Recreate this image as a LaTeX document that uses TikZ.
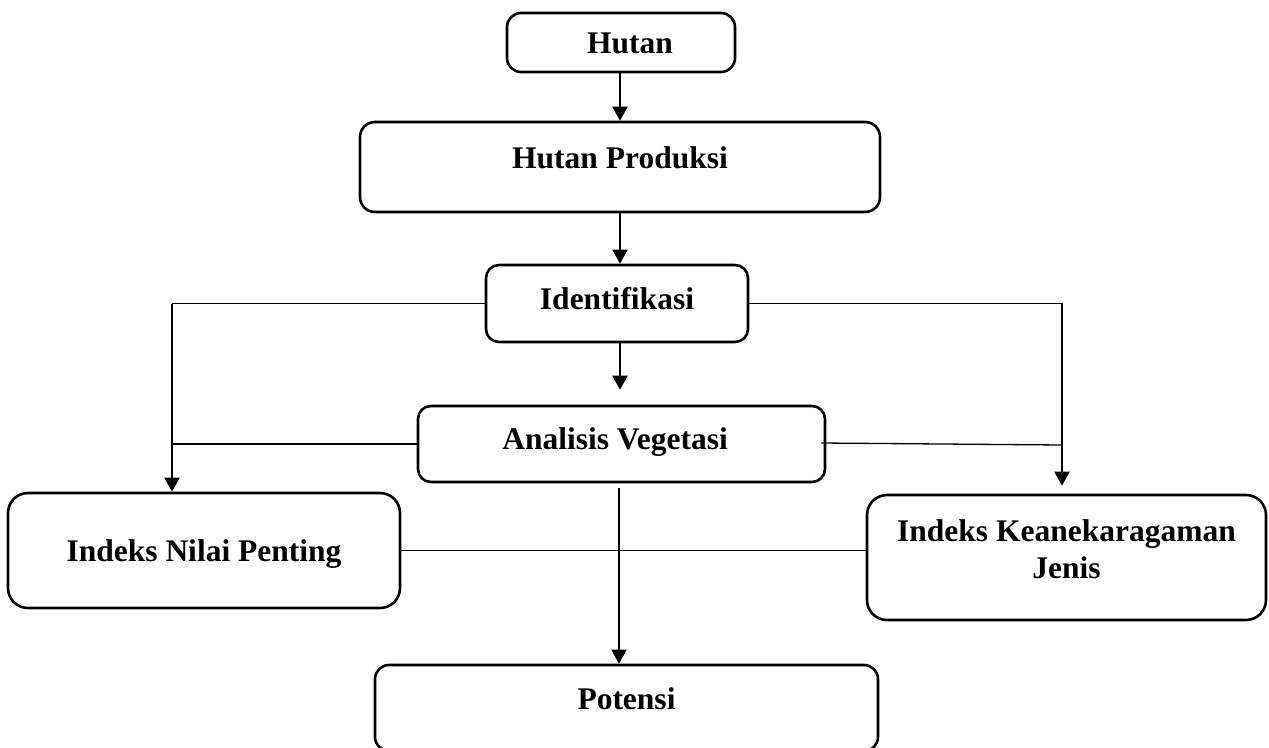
\documentclass[tikz,border=0pt]{standalone}
\usepackage{fontspec}
\setmainfont{Liberation Serif}
\usetikzlibrary{arrows.meta,calc}
\begin{document}
\begin{tikzpicture}[x=1pt,y=-1pt,
  box/.style={draw, line width=2.6pt, rounded corners=14pt, inner sep=0pt, align=center,
    font=\bfseries\fontsize{31.5}{37}\selectfont},
  arr/.style={line width=2pt, -{Triangle[length=14pt,width=15pt]}},
  thinline/.style={line width=1.3pt}]
\useasboundingbox (0,0) rectangle (1269,747);
\clip (0,0) rectangle (1269,747);
% boxes
\node[box, minimum width=228pt, minimum height=59pt, text height=21pt, text depth=0pt] (hutan) at (621,42.5) {\hspace*{18pt}Hutan};
\node[box, minimum width=520pt, minimum height=90pt, rounded corners=15pt, text height=11.5pt, text depth=9.5pt] (hp) at (620,167) {Hutan Produksi};
\node[box, minimum width=262pt, minimum height=77pt, rounded corners=13pt, text height=16.5pt, text depth=4.5pt] (ident) at (617,303.5) {Identifikasi};
\node[box, minimum width=407pt, minimum height=76pt, rounded corners=13pt, text height=16pt, text depth=5pt] (av) at (621.5,444) {Analisis Vegetasi\hspace*{13pt}};
\node[box, minimum width=392pt, minimum height=115pt, rounded corners=20pt, text height=21pt, text depth=0pt] (inp) at (204,550.5) {Indeks Nilai Penting};
\node[box, minimum width=399pt, minimum height=125pt, rounded corners=20pt] (ikj) at (1066.5,557.5) {Indeks Keanekaragaman\\Jenis\rule[-16pt]{0pt}{16pt}};
\node[box, minimum width=503pt, minimum height=86pt, rounded corners=14pt, text height=11.5pt, text depth=9.5pt] (pot) at (626.5,708) {Potensi};
% coordinates
\coordinate (lc) at (172,303);
\coordinate (rc) at (1062,303);
\coordinate (avr) at (1062,445);
% vertical main flow
\draw[arr] ([xshift=-1pt]hutan.south) -- ([xshift=-1pt]hutan.south |- hp.north);
\draw[arr] (hp.south) -- (hp.south |- ident.north);
\draw[arr, shorten >=15pt] ([xshift=3pt]ident.south) -- ([xshift=3pt]ident.south |- av.north);
\draw[arr, shorten <=5pt] ([xshift=-2.5pt]av.south) -- ([xshift=-2.5pt]av.south |- pot.north);
% side branches
\draw[thinline] (ident.west) -- (ident.west -| lc);
\draw[arr] (ident.west -| lc) -- (lc |- inp.north);
\draw[thinline] (ident.east) -- ([xshift=1pt]ident.east -| rc);
\draw[arr, shorten >=8pt] (ident.east -| rc) -- (rc |- ikj.north);
\draw[thinline] (av.west) -- (av.west -| lc);
\draw[thinline] ([xshift=-5pt,yshift=1pt]av.east) -- (avr);
\draw[thinline] (inp.east) -- (inp.east -| ikj.west);
\end{tikzpicture}
\end{document}
